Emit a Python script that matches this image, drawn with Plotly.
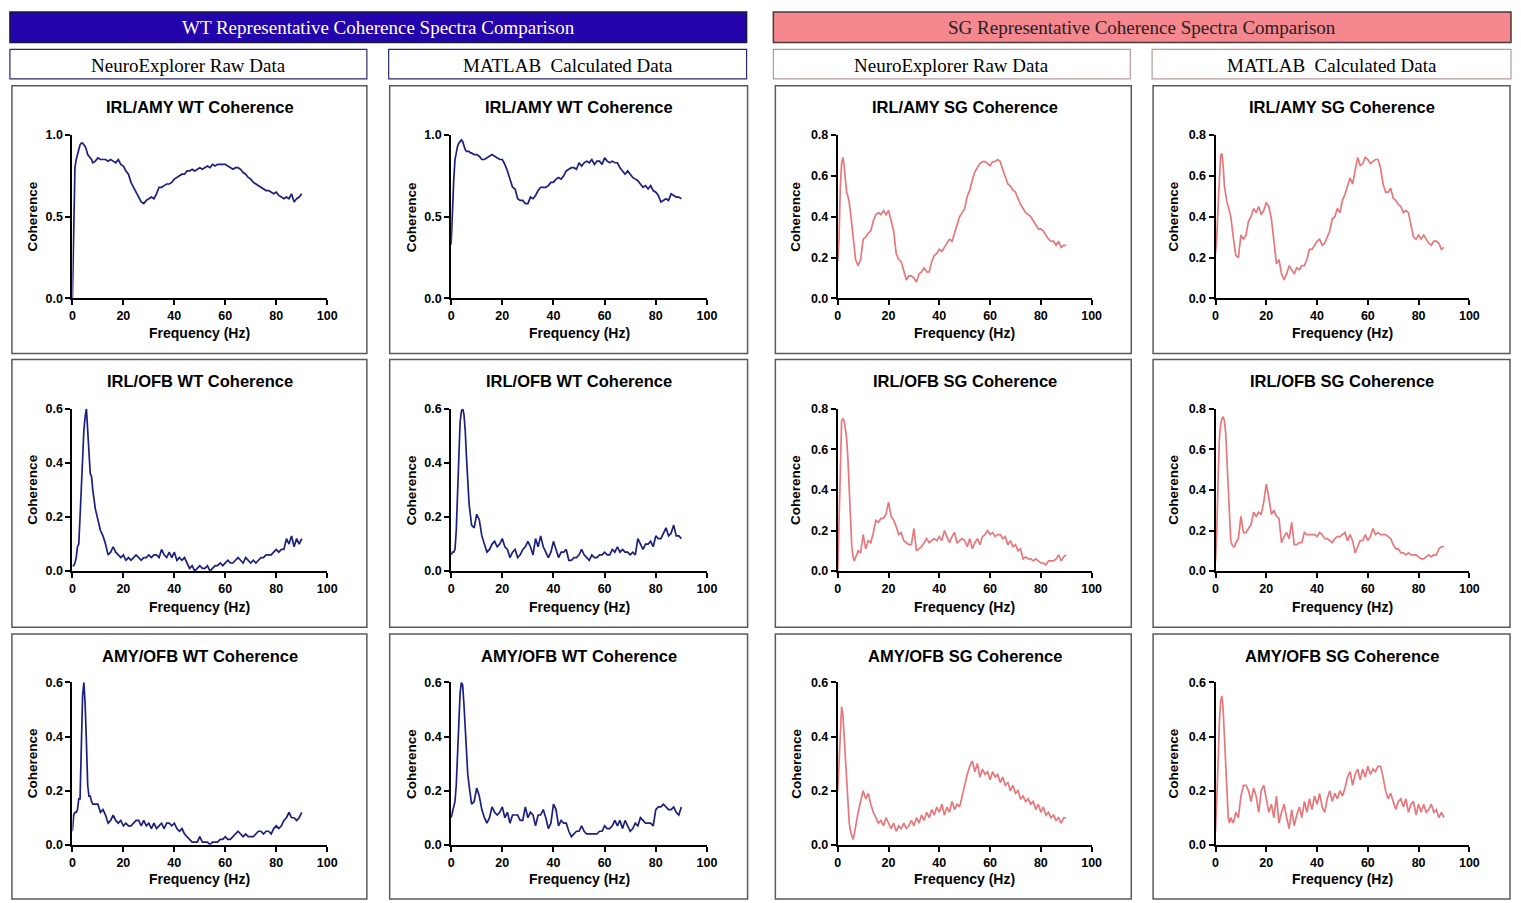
import plotly.graph_objects as go

W, H = 1521, 903

# Frequency axis: 0.5 Hz steps up to 8 Hz, then 1 Hz steps to 90 Hz
FREQ = [0, 0.5, 1, 1.5, 2, 2.5, 3, 3.5, 4, 4.5, 5, 5.5, 6, 6.5, 7, 7.5, 8] + list(range(9, 91))

# ---------------- WT ----------------
WT_IRL_AMY_NEX = [
    0.00, 0.55, 0.80, 0.85, 0.88, 0.92, 0.94, 0.95, 0.95, 0.94, 0.93, 0.91, 0.88, 0.87, 0.86, 0.85, 0.83,
    0.84, 0.86, 0.85, 0.85, 0.85, 0.84, 0.85, 0.84, 0.83, 0.85,
    0.82, 0.81, 0.78, 0.76, 0.71, 0.68, 0.65, 0.62, 0.59, 0.58,
    0.60, 0.61, 0.62, 0.61, 0.64, 0.68, 0.68, 0.69, 0.70, 0.70,
    0.71, 0.73, 0.74, 0.75, 0.76, 0.76, 0.78, 0.78, 0.79, 0.78,
    0.79, 0.80, 0.79, 0.80, 0.81, 0.80, 0.82, 0.81, 0.82, 0.82,
    0.82, 0.82, 0.81, 0.80, 0.79, 0.80, 0.80, 0.79, 0.77, 0.76,
    0.74, 0.73, 0.71, 0.70, 0.69, 0.68, 0.67, 0.66, 0.66, 0.65,
    0.64, 0.65, 0.63, 0.62, 0.61, 0.62, 0.61, 0.64, 0.59, 0.61,
    0.62, 0.64,
]
WT_IRL_AMY_MAT = [
    0.33, 0.55, 0.72, 0.85, 0.90, 0.93, 0.95, 0.96, 0.97, 0.96, 0.93, 0.91, 0.90, 0.90, 0.90, 0.89, 0.89,
    0.88, 0.88, 0.87, 0.85, 0.85, 0.86, 0.87, 0.88, 0.87, 0.86,
    0.85, 0.85, 0.82, 0.78, 0.73, 0.68, 0.67, 0.61, 0.60, 0.60,
    0.58, 0.58, 0.62, 0.61, 0.63, 0.66, 0.68, 0.68, 0.68, 0.69,
    0.71, 0.71, 0.73, 0.74, 0.73, 0.75, 0.78, 0.79, 0.80, 0.80,
    0.79, 0.83, 0.81, 0.83, 0.84, 0.83, 0.85, 0.82, 0.84, 0.84,
    0.82, 0.86, 0.84, 0.83, 0.84, 0.83, 0.83, 0.80, 0.78, 0.76,
    0.78, 0.76, 0.74, 0.73, 0.72, 0.70, 0.68, 0.69, 0.67, 0.69,
    0.66, 0.65, 0.63, 0.59, 0.60, 0.61, 0.60, 0.64, 0.63, 0.62,
    0.62, 0.61,
]
WT_IRL_OFB_NEX = [
    0.02, 0.02, 0.03, 0.05, 0.09, 0.10, 0.20, 0.32, 0.45, 0.52, 0.57, 0.60, 0.52, 0.43, 0.36, 0.35, 0.30,
    0.23, 0.19, 0.15, 0.13, 0.10, 0.06, 0.07, 0.09, 0.07, 0.06,
    0.05, 0.06, 0.04, 0.05, 0.04, 0.05, 0.06, 0.05, 0.04, 0.05,
    0.05, 0.06, 0.05, 0.06, 0.06, 0.05, 0.08, 0.06, 0.05, 0.07,
    0.05, 0.07, 0.04, 0.05, 0.04, 0.05, 0.03, 0.01, 0.02, 0.00,
    0.01, 0.02, 0.01, 0.01, 0.02, 0.00, 0.01, 0.02, 0.02, 0.03,
    0.02, 0.03, 0.04, 0.03, 0.03, 0.04, 0.05, 0.04, 0.03, 0.05,
    0.04, 0.03, 0.04, 0.03, 0.04, 0.05, 0.05, 0.06, 0.06, 0.06,
    0.07, 0.08, 0.07, 0.08, 0.08, 0.12, 0.10, 0.13, 0.09, 0.12,
    0.10, 0.12,
]
WT_IRL_OFB_MAT = [
    0.06, 0.07, 0.07, 0.08, 0.15, 0.28, 0.42, 0.55, 0.59, 0.60, 0.58, 0.52, 0.42, 0.33, 0.25, 0.21, 0.17,
    0.16, 0.21, 0.19, 0.13, 0.10, 0.07, 0.08, 0.10, 0.11, 0.09,
    0.10, 0.12, 0.09, 0.08, 0.05, 0.07, 0.08, 0.05, 0.06, 0.08,
    0.09, 0.11, 0.09, 0.06, 0.12, 0.09, 0.13, 0.09, 0.07, 0.05,
    0.07, 0.11, 0.08, 0.05, 0.07, 0.07, 0.08, 0.04, 0.04, 0.05,
    0.05, 0.06, 0.08, 0.06, 0.05, 0.04, 0.06, 0.05, 0.05, 0.06,
    0.06, 0.07, 0.06, 0.06, 0.08, 0.07, 0.09, 0.07, 0.08, 0.07,
    0.07, 0.06, 0.07, 0.06, 0.12, 0.10, 0.08, 0.10, 0.10, 0.11,
    0.09, 0.13, 0.12, 0.12, 0.14, 0.16, 0.13, 0.14, 0.17, 0.13,
    0.13, 0.12,
]
WT_AMY_OFB_NEX = [
    0.05, 0.11, 0.12, 0.12, 0.13, 0.17, 0.17, 0.35, 0.55, 0.60, 0.52, 0.38, 0.22, 0.18, 0.18, 0.16, 0.15,
    0.15, 0.15, 0.12, 0.13, 0.11, 0.08, 0.09, 0.11, 0.09, 0.08,
    0.09, 0.07, 0.08, 0.07, 0.07, 0.08, 0.09, 0.09, 0.07, 0.09,
    0.07, 0.08, 0.06, 0.08, 0.06, 0.07, 0.08, 0.06, 0.08, 0.08,
    0.07, 0.08, 0.06, 0.05, 0.06, 0.04, 0.03, 0.02, 0.01, 0.01,
    0.01, 0.03, 0.01, 0.01, 0.01, 0.00, 0.01, 0.01, 0.01, 0.02,
    0.02, 0.03, 0.02, 0.02, 0.03, 0.04, 0.05, 0.04, 0.03, 0.04,
    0.03, 0.03, 0.03, 0.04, 0.05, 0.05, 0.04, 0.05, 0.05, 0.04,
    0.06, 0.07, 0.06, 0.07, 0.09, 0.10, 0.12, 0.10, 0.10, 0.09,
    0.10, 0.12,
]
WT_AMY_OFB_MAT = [
    0.10, 0.12, 0.14, 0.16, 0.22, 0.32, 0.45, 0.56, 0.60, 0.59, 0.52, 0.42, 0.32, 0.26, 0.22, 0.18, 0.15,
    0.16, 0.21, 0.18, 0.13, 0.10, 0.08, 0.10, 0.14, 0.12, 0.11,
    0.12, 0.14, 0.10, 0.12, 0.08, 0.11, 0.11, 0.11, 0.09, 0.09,
    0.14, 0.10, 0.12, 0.11, 0.07, 0.11, 0.11, 0.13, 0.10, 0.06,
    0.08, 0.15, 0.13, 0.07, 0.09, 0.08, 0.08, 0.05, 0.03, 0.04,
    0.05, 0.05, 0.07, 0.05, 0.04, 0.04, 0.04, 0.04, 0.04, 0.05,
    0.05, 0.07, 0.06, 0.06, 0.07, 0.09, 0.07, 0.09, 0.06, 0.09,
    0.07, 0.05, 0.06, 0.08, 0.07, 0.10, 0.09, 0.08, 0.08, 0.08,
    0.07, 0.13, 0.14, 0.14, 0.15, 0.14, 0.13, 0.13, 0.14, 0.12,
    0.11, 0.14,
]

# ---------------- SG ----------------
SG_IRL_AMY_NEX = [
    0.18, 0.30, 0.55, 0.66, 0.69, 0.65, 0.58, 0.52, 0.50, 0.47, 0.42, 0.37, 0.30, 0.25, 0.19, 0.17, 0.16,
    0.19, 0.29, 0.30, 0.32, 0.33, 0.38, 0.41, 0.42, 0.41, 0.43,
    0.41, 0.43, 0.38, 0.33, 0.22, 0.19, 0.18, 0.14, 0.09, 0.11,
    0.11, 0.10, 0.08, 0.12, 0.13, 0.15, 0.13, 0.13, 0.18, 0.21,
    0.22, 0.24, 0.23, 0.25, 0.27, 0.29, 0.28, 0.32, 0.35, 0.40,
    0.42, 0.44, 0.50, 0.53, 0.58, 0.62, 0.64, 0.66, 0.67, 0.67,
    0.66, 0.65, 0.67, 0.67, 0.68, 0.67, 0.63, 0.59, 0.56, 0.55,
    0.53, 0.52, 0.49, 0.46, 0.44, 0.42, 0.41, 0.40, 0.38, 0.36,
    0.34, 0.34, 0.33, 0.31, 0.29, 0.28, 0.28, 0.26, 0.28, 0.25,
    0.26, 0.26,
]
SG_IRL_AMY_MAT = [
    0.22, 0.30, 0.45, 0.62, 0.70, 0.71, 0.65, 0.55, 0.50, 0.47, 0.45, 0.43, 0.40, 0.35, 0.29, 0.25, 0.21,
    0.20, 0.31, 0.29, 0.31, 0.38, 0.40, 0.44, 0.42, 0.45, 0.41,
    0.43, 0.47, 0.45, 0.39, 0.27, 0.17, 0.19, 0.12, 0.09, 0.12,
    0.16, 0.14, 0.12, 0.15, 0.14, 0.16, 0.16, 0.19, 0.24, 0.24,
    0.26, 0.28, 0.29, 0.26, 0.27, 0.30, 0.33, 0.39, 0.40, 0.44,
    0.42, 0.48, 0.51, 0.55, 0.59, 0.56, 0.62, 0.69, 0.65, 0.66,
    0.69, 0.68, 0.66, 0.67, 0.68, 0.68, 0.64, 0.56, 0.52, 0.52,
    0.54, 0.49, 0.48, 0.46, 0.45, 0.42, 0.43, 0.42, 0.35, 0.30,
    0.29, 0.31, 0.29, 0.31, 0.29, 0.27, 0.26, 0.28, 0.28, 0.27,
    0.24, 0.25,
]
SG_IRL_OFB_NEX = [
    0.00, 0.25, 0.60, 0.74, 0.75, 0.74, 0.70, 0.65, 0.55, 0.40, 0.22, 0.12, 0.07, 0.05, 0.07, 0.08, 0.10,
    0.09, 0.18, 0.11, 0.15, 0.14, 0.19, 0.25, 0.24, 0.26, 0.26,
    0.28, 0.34, 0.27, 0.25, 0.22, 0.18, 0.19, 0.15, 0.14, 0.13,
    0.13, 0.21, 0.10, 0.11, 0.12, 0.14, 0.16, 0.14, 0.15, 0.16,
    0.15, 0.17, 0.15, 0.20, 0.17, 0.14, 0.17, 0.19, 0.14, 0.15,
    0.16, 0.15, 0.12, 0.16, 0.11, 0.14, 0.16, 0.13, 0.17, 0.18,
    0.20, 0.18, 0.19, 0.17, 0.18, 0.18, 0.16, 0.17, 0.13, 0.15,
    0.12, 0.13, 0.10, 0.11, 0.06, 0.07, 0.06, 0.06, 0.05, 0.06,
    0.05, 0.04, 0.04, 0.03, 0.05, 0.05, 0.05, 0.06, 0.08, 0.05,
    0.07, 0.08,
]
SG_IRL_OFB_MAT = [
    0.05, 0.20, 0.45, 0.65, 0.72, 0.75, 0.76, 0.74, 0.68, 0.55, 0.38, 0.22, 0.15, 0.13, 0.12, 0.12, 0.14,
    0.16, 0.27, 0.19, 0.19, 0.21, 0.23, 0.29, 0.27, 0.29, 0.28,
    0.34, 0.43, 0.36, 0.28, 0.30, 0.27, 0.26, 0.14, 0.17, 0.19,
    0.16, 0.24, 0.13, 0.13, 0.14, 0.14, 0.19, 0.18, 0.18, 0.18,
    0.18, 0.17, 0.19, 0.18, 0.16, 0.16, 0.15, 0.14, 0.16, 0.17,
    0.17, 0.18, 0.19, 0.15, 0.18, 0.15, 0.09, 0.12, 0.15, 0.15,
    0.18, 0.15, 0.17, 0.21, 0.18, 0.19, 0.18, 0.18, 0.18, 0.17,
    0.16, 0.13, 0.11, 0.11, 0.09, 0.09, 0.08, 0.09, 0.08, 0.08,
    0.08, 0.07, 0.06, 0.06, 0.07, 0.08, 0.07, 0.08, 0.08, 0.11,
    0.12, 0.12,
]
SG_AMY_OFB_NEX = [
    0.20, 0.30, 0.45, 0.51, 0.48, 0.40, 0.30, 0.20, 0.12, 0.08, 0.05, 0.03, 0.02, 0.04, 0.07, 0.09, 0.12,
    0.16, 0.20, 0.17, 0.19, 0.15, 0.12, 0.10, 0.08, 0.09, 0.07,
    0.10, 0.08, 0.06, 0.08, 0.05, 0.07, 0.06, 0.08, 0.06, 0.07,
    0.09, 0.07, 0.10, 0.08, 0.11, 0.09, 0.12, 0.10, 0.13, 0.11,
    0.14, 0.12, 0.15, 0.11, 0.14, 0.12, 0.16, 0.13, 0.15, 0.14,
    0.18, 0.23, 0.26, 0.29, 0.31, 0.27, 0.30, 0.25, 0.28, 0.26,
    0.27, 0.24, 0.27, 0.25, 0.26, 0.23, 0.25, 0.22, 0.23, 0.20,
    0.22, 0.19, 0.20, 0.17, 0.18, 0.16, 0.17, 0.15, 0.16, 0.13,
    0.15, 0.12, 0.14, 0.11, 0.12, 0.10, 0.11, 0.09, 0.10, 0.08,
    0.10, 0.10,
]
SG_AMY_OFB_MAT = [
    0.05, 0.15, 0.30, 0.45, 0.53, 0.55, 0.50, 0.40, 0.28, 0.18, 0.10, 0.08, 0.10, 0.09, 0.08, 0.10, 0.12,
    0.10, 0.18, 0.22, 0.22, 0.20, 0.16, 0.21, 0.18, 0.12, 0.20,
    0.22, 0.17, 0.12, 0.15, 0.10, 0.18, 0.08, 0.12, 0.15, 0.10,
    0.06, 0.13, 0.07, 0.11, 0.14, 0.10, 0.16, 0.12, 0.17, 0.13,
    0.18, 0.15, 0.19, 0.14, 0.12, 0.17, 0.20, 0.16, 0.19, 0.17,
    0.20, 0.18, 0.21, 0.25, 0.27, 0.22, 0.26, 0.28, 0.24, 0.28,
    0.25, 0.29, 0.26, 0.28, 0.27, 0.29, 0.29, 0.25, 0.20, 0.17,
    0.19, 0.16, 0.13, 0.16, 0.17, 0.14, 0.17, 0.12, 0.15, 0.16,
    0.11, 0.15, 0.12, 0.15, 0.12, 0.13, 0.15, 0.12, 0.13, 0.10,
    0.12, 0.10,
]

X_TICKS = [0, 20, 40, 60, 80, 100]
WT_COLOR = "#1b1f80"
SG_COLOR = "#e8777b"

# (row, col, title, values, colour, y max)
PANELS = [
    (0, 0, "IRL/AMY WT Coherence", WT_IRL_AMY_NEX, WT_COLOR, 1.0),
    (0, 1, "IRL/AMY WT Coherence", WT_IRL_AMY_MAT, WT_COLOR, 1.0),
    (0, 2, "IRL/AMY SG Coherence", SG_IRL_AMY_NEX, SG_COLOR, 0.8),
    (0, 3, "IRL/AMY SG Coherence", SG_IRL_AMY_MAT, SG_COLOR, 0.8),
    (1, 0, "IRL/OFB WT Coherence", WT_IRL_OFB_NEX, WT_COLOR, 0.6),
    (1, 1, "IRL/OFB WT Coherence", WT_IRL_OFB_MAT, WT_COLOR, 0.6),
    (1, 2, "IRL/OFB SG Coherence", SG_IRL_OFB_NEX, SG_COLOR, 0.8),
    (1, 3, "IRL/OFB SG Coherence", SG_IRL_OFB_MAT, SG_COLOR, 0.8),
    (2, 0, "AMY/OFB WT Coherence", WT_AMY_OFB_NEX, WT_COLOR, 0.6),
    (2, 1, "AMY/OFB WT Coherence", WT_AMY_OFB_MAT, WT_COLOR, 0.6),
    (2, 2, "AMY/OFB SG Coherence", SG_AMY_OFB_NEX, SG_COLOR, 0.6),
    (2, 3, "AMY/OFB SG Coherence", SG_AMY_OFB_MAT, SG_COLOR, 0.6),
]

# Layout grid in pixels
COL_AX = [(70, 327), (452, 710), (842, 1098), (1223, 1479)]
ROW_AX = [(130, 296), (408, 573), (686, 851)]
COL_BOX = [(9, 367), (390, 751), (779, 1138), (1160, 1520)]
ROW_BOX = [(80, 352), (358, 630), (637, 906)]
COL_YTITLE = [30, 412, 800, 1181]
ROW_TITLE = [102, 380, 659]
ROW_XTITLE = [331, 609, 886]


def px(x):
    return x / W


def py(y):
    return 1 - y / H


SANS = "Arial, Liberation Sans, sans-serif"
SERIF = "Times New Roman, Liberation Serif, serif"


def label(text, x, y, font, **kw):
    return dict(text=text, x=px(x), y=py(y), xref="paper", yref="paper",
                xanchor="center", yanchor="middle", showarrow=False, font=font, **kw)


fig = go.Figure()
shapes = []
annotations = []

for i, (r, c, title, vals, color, ymax) in enumerate(PANELS, start=1):
    xa = "x" if i == 1 else f"x{i}"
    ya = "y" if i == 1 else f"y{i}"
    fig.add_trace(go.Scatter(x=FREQ, y=vals, mode="lines", xaxis=xa, yaxis=ya,
                             line=dict(color=color, width=1.7), hoverinfo="skip",
                             showlegend=False))
    step = 0.5 if ymax == 1.0 else 0.2
    yt = [round(k * step, 2) for k in range(int(round(ymax / step)) + 1)]
    x0, x1 = COL_AX[c]
    yt0, yb0 = ROW_AX[r]
    common = dict(showline=True, linecolor="black", linewidth=2, ticks="outside",
                  ticklen=5, tickwidth=2, tickcolor="black", showgrid=False,
                  zeroline=False,
                  tickfont=dict(family=SANS, size=12.5, color="black", weight="bold"))
    fig.layout["xaxis" if i == 1 else f"xaxis{i}"] = dict(
        domain=[px(x0), px(x1)], range=[0, 100], tickvals=X_TICKS, anchor=ya, **common)
    fig.layout["yaxis" if i == 1 else f"yaxis{i}"] = dict(
        domain=[py(yb0), py(yt0)], range=[0, ymax], tickvals=yt, tickformat=".1f",
        anchor=xa, **common)

    bx0, bx1 = COL_BOX[c]
    by0, by1 = ROW_BOX[r]
    shapes.append(dict(type="rect", xref="paper", yref="paper", x0=px(bx0), x1=px(bx1),
                       y0=py(by1), y1=py(by0), line=dict(color="#5a5a5a", width=1.5)))
    cx = (x0 + x1) / 2
    annotations.append(label(f"<b>{title}</b>", cx, ROW_TITLE[r],
                             dict(family=SANS, size=16.5, color="black")))
    annotations.append(label("<b>Frequency (Hz)</b>", cx, ROW_XTITLE[r],
                             dict(family=SANS, size=14, color="black")))
    annotations.append(label("<b>Coherence</b>", COL_YTITLE[c], (yt0 + yb0) / 2,
                             dict(family=SANS, size=13.5, color="black"), textangle=-90))

# Group headers
HEADERS = [
    ((7, 750), "WT Representative Coherence Spectra Comparison", "#2303ab", "white", "#1a1a3a"),
    ((777, 1521), "SG Representative Coherence Spectra Comparison", "#f5878f", "#222222", "#4a3a3a"),
]
for (hx0, hx1), text, fill, fc, lc in HEADERS:
    shapes.append(dict(type="rect", xref="paper", yref="paper", x0=px(hx0), x1=px(hx1),
                       y0=py(36), y1=py(5), fillcolor=fill, line=dict(color=lc, width=1.5),
                       layer="below"))
    annotations.append(label(text, (hx0 + hx1) / 2, 21,
                             dict(family=SERIF, size=19, color=fc)))

SUBHEADERS = [
    ((7, 367), "NeuroExplorer Raw Data", "#2a2a6a"),
    ((389, 750), "MATLAB&nbsp; Calculated Data", "#2a2a6a"),
    ((777, 1137), "NeuroExplorer Raw Data", "#b89a9e"),
    ((1159, 1521), "MATLAB&nbsp; Calculated Data", "#b89a9e"),
]
for (sx0, sx1), text, lc in SUBHEADERS:
    shapes.append(dict(type="rect", xref="paper", yref="paper", x0=px(sx0), x1=px(sx1),
                       y0=py(73), y1=py(43), line=dict(color=lc, width=1.2)))
    annotations.append(label(text, (sx0 + sx1) / 2, 59,
                             dict(family=SERIF, size=19, color="black")))

fig.update_layout(width=W, height=H, margin=dict(l=0, r=0, t=0, b=0),
                  paper_bgcolor="white", plot_bgcolor="rgba(0,0,0,0)",
                  showlegend=False, shapes=shapes, annotations=annotations)

fig.write_html("out.html")
